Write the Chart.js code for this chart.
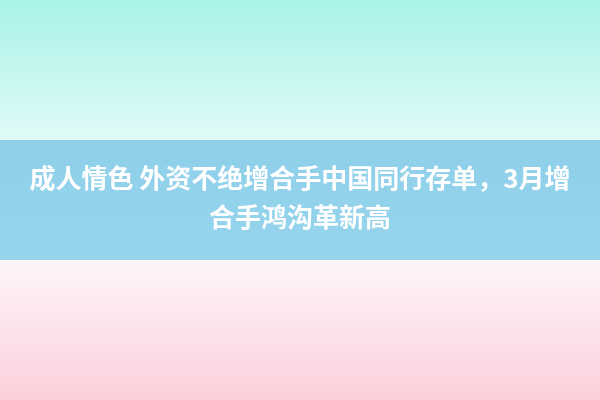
<!DOCTYPE html>
<html>
<head>
<meta charset="utf-8">
<script src="https://cdn.jsdelivr.net/npm/chart.js@4/dist/chart.umd.min.js"></script>
<style>html,body{margin:0;padding:0;background:#fff;}canvas{display:block;}</style>
</head>
<body>
<canvas id="c" width="600" height="400"></canvas>
<script>
const titleLines = ["成人情色 外资不绝增合手中国同行存单，3月增", "合手鸿沟革新高"];
const categories = [];
const values = [];

const bgPlugin = {
  id: 'bg',
  beforeDraw(chart) {
    const ctx = chart.ctx, w = chart.width, h = chart.height;
    ctx.save();
    let g = ctx.createLinearGradient(0, 0, 0, 140);
    g.addColorStop(0, '#a9f2e7');
    g.addColorStop(1, '#e0fbf8');
    ctx.fillStyle = g; ctx.fillRect(0, 0, w, 140);
    g = ctx.createLinearGradient(0, 140, 0, 260);
    g.addColorStop(0, '#8ecfe9');
    g.addColorStop(1, '#97d5ed');
    ctx.fillStyle = g; ctx.fillRect(0, 140, w, 120);
    g = ctx.createLinearGradient(0, 260, 0, 400);
    g.addColorStop(0, '#fdf6f9');
    g.addColorStop(1, '#fccfdb');
    ctx.fillStyle = g; ctx.fillRect(0, 260, w, 140);
    ctx.restore();
  }
};

new Chart(document.getElementById('c'), {
  type: 'bar',
  data: { labels: categories, datasets: [{ data: values }] },
  options: {
    responsive: false,
    animation: false,
    devicePixelRatio: 1,
    layout: { padding: 0 },
    scales: { x: { display: false }, y: { display: false } },
    plugins: {
      legend: { display: false },
      tooltip: { enabled: false },
      title: {
        display: true,
        text: titleLines,
        color: '#ffffff',
        font: { family: '"Noto Sans CJK SC", sans-serif', size: 26, weight: 'bold', lineHeight: 1.5 },
        padding: { top: 159, bottom: 0 }
      }
    }
  },
  plugins: [bgPlugin]
});
</script>
</body>
</html>
